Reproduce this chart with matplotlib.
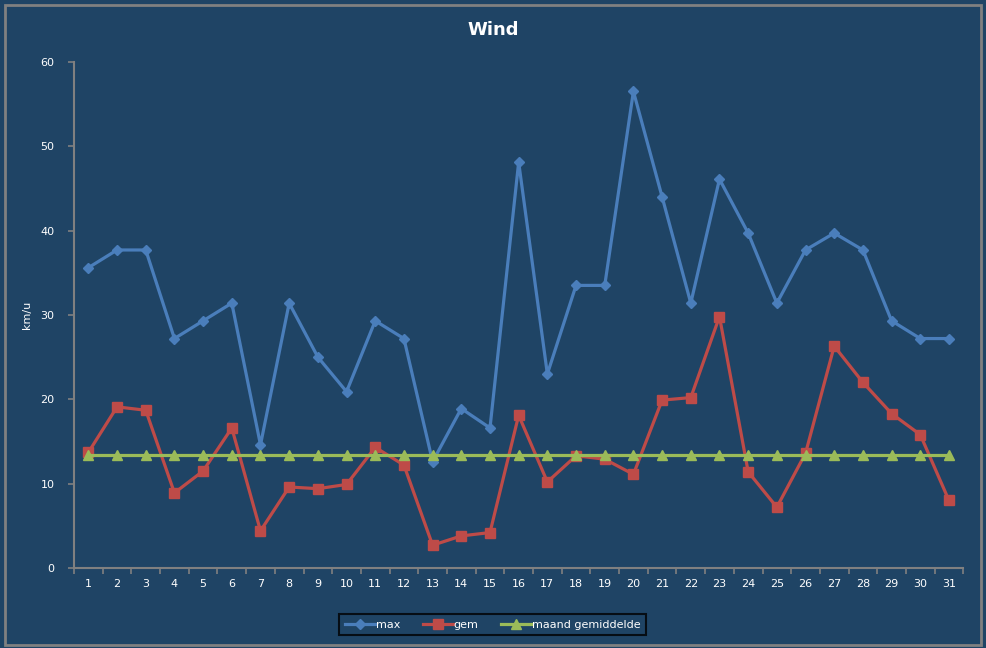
import matplotlib
matplotlib.use('Agg')
import matplotlib.pyplot as plt
from matplotlib.patches import Rectangle

# data
dagen = list(range(1, 32))
max_wind = [35.6, 37.7, 37.7, 27.2, 29.3, 31.4, 14.6, 31.4, 25.0, 20.9,
            29.3, 27.2, 12.6, 18.9, 16.6, 48.1, 23.0, 33.5, 33.5, 56.5,
            44.0, 31.4, 46.1, 39.7, 31.4, 37.7, 39.7, 37.7, 29.3, 27.2, 27.2]
gem_wind = [13.7, 19.1, 18.7, 8.9, 11.5, 16.6, 4.4, 9.6, 9.4, 9.9,
            14.3, 12.2, 2.7, 3.8, 4.2, 18.1, 10.2, 13.3, 12.9, 11.1,
            19.9, 20.2, 29.8, 11.4, 7.2, 13.6, 26.3, 22.0, 18.3, 15.8, 8.0]
maand_gem = [13.4, 13.4, 13.4, 13.4, 13.4, 13.4, 13.4, 13.4, 13.4, 13.4,
             13.4, 13.4, 13.4, 13.4, 13.4, 13.4, 13.4, 13.4, 13.4, 13.4,
             13.4, 13.4, 13.4, 13.4, 13.4, 13.4, 13.4, 13.4, 13.4, 13.4, 13.4]

bg = '#1F4465'
grijs = '#808080'

fig = plt.figure(figsize=(9.87, 6.48), dpi=100, facecolor=bg)
ax = fig.add_axes([0.075, 0.1235, 0.901, 0.781], facecolor=bg)

# buitenrand
fig.patches.append(Rectangle((0.005, 0.005), 0.989, 0.988, transform=fig.transFigure,
                             fill=False, edgecolor=grijs, linewidth=2))

ax.plot(dagen, max_wind, color='#4A7EBB', lw=2.3, marker='D', ms=5.5, label='max')
ax.plot(dagen, gem_wind, color='#BE4B48', lw=2.3, marker='s', ms=7, label='gem')
ax.plot(dagen, maand_gem, color='#9BBB59', lw=2.3, marker='^', ms=6.5, label='maand gemiddelde')

ax.set_xlim(0.5, 31.5)
ax.set_ylim(0, 60)
ax.set_yticks(range(0, 61, 10))
ax.set_xticks(dagen)
ax.set_xticks([d + 0.5 for d in range(0, 32)], minor=True)
ax.tick_params(axis='x', which='major', length=0, pad=8, labelsize=8, labelcolor='white')
ax.tick_params(axis='x', which='minor', length=4, color=grijs, width=1.2)
ax.tick_params(axis='y', length=4, color=grijs, width=1.2, pad=10, labelsize=8, labelcolor='white')

for s in ['top', 'right']:
    ax.spines[s].set_visible(False)
for s in ['left', 'bottom']:
    ax.spines[s].set_color(grijs)
    ax.spines[s].set_linewidth(1.5)

ax.set_ylabel('km/u', color='white', fontsize=8, labelpad=6)
fig.suptitle('Wind', color='white', fontsize=13, fontweight='bold', y=0.967)

leg = ax.legend(loc='upper center', bbox_to_anchor=(0.471, -0.08), ncol=3, frameon=True,
                fontsize=8, handlelength=2.7, columnspacing=2.0, handletextpad=0.1,
                fancybox=False, borderpad=0.5)
leg.get_frame().set_facecolor(bg)
leg.get_frame().set_edgecolor('black')
leg.get_frame().set_linewidth(1.5)
for t in leg.get_texts():
    t.set_color('white')

plt.savefig('out.png', dpi=100, facecolor=bg)
